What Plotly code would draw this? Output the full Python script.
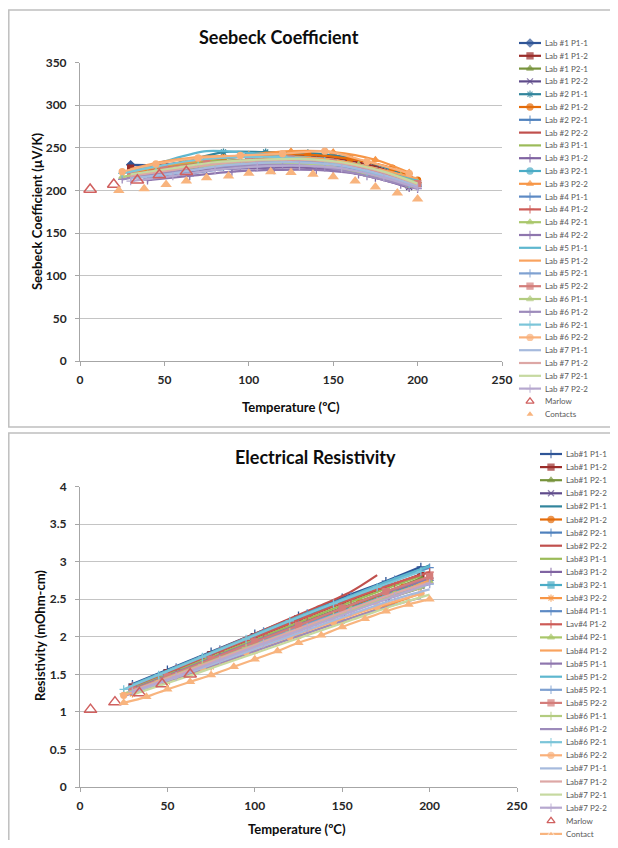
import plotly.graph_objects as go

# The page adds an 8px body margin, so the figure is 16px smaller than the window
PAGE_W, PAGE_H = 618, 848
FW, FH = PAGE_W - 16, PAGE_H - 16
FONT = "Lato"

def PX(x):
    return (x - 8) / FW

def PY(y):
    return 1 - (y - 8) / FH

# ---------------- legend names ----------------
names_top = ["Lab #1 P1-1", "Lab #1 P1-2", "Lab #1 P2-1", "Lab #1 P2-2",
             "Lab #2 P1-1", "Lab #2 P1-2", "Lab #2 P2-1", "Lab #2 P2-2",
             "Lab #3 P1-1", "Lab #3 P1-2", "Lab #3 P2-1", "Lab #3 P2-2",
             "Lab #4 P1-1", "Lab #4 P1-2", "Lab #4 P2-1", "Lab #4 P2-2",
             "Lab #5 P1-1", "Lab #5 P1-2", "Lab #5 P2-1", "Lab #5 P2-2",
             "Lab #6 P1-1", "Lab #6 P1-2", "Lab #6 P2-1", "Lab #6 P2-2",
             "Lab #7 P1-1", "Lab #7 P1-2", "Lab #7 P2-1", "Lab #7 P2-2"]
names_bot = ["Lab#1 P1-1", "Lab#1 P1-2", "Lab#1 P2-1", "Lab#1 P2-2",
             "Lab#2 P1-1", "Lab#2 P1-2", "Lab#2 P2-1", "Lab#2 P2-2",
             "Lab#3 P1-1", "Lab#3 P1-2", "Lab#3 P2-1", "Lab#3 P2-2",
             "Lab#4 P1-1", "Lav#4 P1-2", "Lab#4 P2-1", "Lab#4 P1-2",
             "Lab#5 P1-1", "Lab#5 P1-2", "Lab#5 P2-1", "Lab#5 P2-2",
             "Lab#6 P1-1", "Lab#6 P1-2", "Lab#6 P2-1", "Lab#6 P2-2",
             "Lab#7 P1-1", "Lab#7 P1-2", "Lab#7 P2-1", "Lab#7 P2-2"]

# ---------------- Seebeck data ----------------
seebeck_temps = [
    [30, 50, 75, 100, 125, 150, 175, 195],   # Lab 1
    [35, 60, 85, 110, 135, 160, 185, 200],   # Lab 2
    [30, 50, 75, 100, 125, 150, 175, 195],   # Lab 3
    [40, 65, 90, 115, 140, 165, 190, 200],   # Lab 4
    [30, 50, 75, 100, 125, 150, 175, 200],   # Lab 5
    [25, 45, 70, 95, 120, 145, 170, 195],    # Lab 6
    [30, 55, 80, 105, 130, 155, 180, 200],   # Lab 7
]
seebeck_lab1 = [[230, 230, 233, 236, 237, 234, 224, 210],
                [226, 230, 236, 240, 241, 238, 228, 213],
                [222, 227, 232, 235, 236, 233, 222, 206],
                [219, 222, 226, 229, 230, 227, 218, 204]]
seebeck_lab2 = [[224, 233, 245, 245, 244, 238, 224, 211],
                [222, 230, 238, 241, 242, 237, 226, 212],
                [217, 222, 228, 231, 232, 228, 216, 205],
                [220, 225, 230, 233, 234, 230, 218, 206]]
seebeck_lab3 = [[223, 229, 234, 236, 237, 233, 222, 208],
                [216, 220, 224, 226, 227, 224, 215, 203],
                [219, 224, 230, 234, 236, 233, 223, 209],
                [221, 229, 236, 242, 246, 245, 236, 221]]
seebeck_lab4 = [[214, 220, 226, 229, 229, 224, 211, 205],
                [218, 224, 230, 233, 233, 228, 215, 209],
                [220, 226, 232, 235, 235, 230, 217, 210],
                [212, 217, 222, 224, 224, 219, 207, 202]]
seebeck_lab5 = [[222, 234, 246, 244, 240, 236, 226, 212],
                [225, 234, 240, 240, 239, 236, 226, 214],
                [215, 222, 230, 234, 235, 232, 221, 207],
                [218, 226, 232, 236, 237, 233, 222, 208]]
seebeck_lab6 = [[216, 222, 228, 231, 232, 229, 219, 206],
                [213, 219, 225, 229, 230, 227, 217, 205],
                [220, 228, 236, 239, 239, 234, 222, 208],
                [222, 231, 238, 241, 243, 246, 234, 220]]
seebeck_lab7 = [[214, 220, 228, 232, 233, 229, 218, 205],
                [217, 224, 231, 235, 236, 232, 221, 207],
                [219, 226, 233, 236, 237, 233, 222, 208],
                [211, 217, 224, 228, 229, 226, 215, 203]]
seebeck_labs = [seebeck_lab1, seebeck_lab2, seebeck_lab3, seebeck_lab4,
                seebeck_lab5, seebeck_lab6, seebeck_lab7]

marlow_t = [6, 20, 34, 47, 63]
marlow_seebeck = [201, 207, 212, 218, 222]
contacts_t = [23, 38, 51, 63, 75, 88, 100, 113, 125, 138, 150, 163, 175, 188, 200]
contacts_seebeck = [200, 202, 207, 211, 215, 217, 220, 222, 221, 219, 216, 211, 204, 197, 190]

# ---------------- Resistivity data ----------------
rho_temps = [
    [30, 50, 75, 100, 125, 150, 175, 195],   # Lab 1
    [35, 60, 85, 110, 135, 160, 185, 200],   # Lab 2
    [30, 50, 75, 100, 125, 150, 175, 195],   # Lab 3
    [30, 55, 80, 105, 130, 155, 180, 200],   # Lab 4
    [30, 50, 75, 100, 125, 150, 175, 200],   # Lab 5
    [25, 45, 70, 95, 120, 145, 170, 195],    # Lab 6
    [30, 55, 80, 105, 130, 155, 180, 200],   # Lab 7
]
rho_temps_lab2_p22 = [35, 60, 85, 110, 135, 155, 170]
rho_lab1 = [[1.37, 1.56, 1.80, 2.04, 2.28, 2.52, 2.74, 2.93],
            [1.33, 1.52, 1.76, 1.99, 2.22, 2.45, 2.66, 2.83],
            [1.30, 1.48, 1.71, 1.94, 2.17, 2.39, 2.60, 2.78],
            [1.27, 1.45, 1.67, 1.89, 2.11, 2.32, 2.52, 2.68]]
rho_lab2 = [[1.38, 1.62, 1.86, 2.10, 2.34, 2.57, 2.80, 2.95],
            [1.33, 1.55, 1.78, 2.01, 2.23, 2.45, 2.66, 2.78],
            [1.31, 1.53, 1.76, 1.98, 2.20, 2.42, 2.63, 2.75],
            [1.40, 1.64, 1.89, 2.14, 2.39, 2.60, 2.82]]
rho_lab3 = [[1.32, 1.50, 1.73, 1.96, 2.19, 2.42, 2.64, 2.81],
            [1.27, 1.44, 1.66, 1.88, 2.09, 2.30, 2.50, 2.65],
            [1.29, 1.47, 1.69, 1.91, 2.13, 2.34, 2.55, 2.70],
            [1.24, 1.40, 1.60, 1.81, 2.01, 2.21, 2.41, 2.58]]
rho_lab4 = [[1.35, 1.59, 1.83, 2.07, 2.31, 2.54, 2.76, 2.92],
            [1.34, 1.57, 1.81, 2.04, 2.27, 2.50, 2.71, 2.86],
            [1.28, 1.49, 1.71, 1.93, 2.15, 2.37, 2.58, 2.74],
            [1.26, 1.46, 1.68, 1.90, 2.12, 2.34, 2.56, 2.76]]
rho_lab5 = [[1.30, 1.48, 1.71, 1.94, 2.16, 2.38, 2.59, 2.78],
            [1.36, 1.55, 1.79, 2.03, 2.27, 2.50, 2.73, 2.94],
            [1.28, 1.46, 1.68, 1.90, 2.12, 2.33, 2.53, 2.70],
            [1.29, 1.47, 1.70, 1.93, 2.15, 2.38, 2.60, 2.80]]
rho_lab6 = [[1.24, 1.41, 1.63, 1.85, 2.06, 2.27, 2.47, 2.65],
            [1.21, 1.37, 1.57, 1.77, 1.97, 2.17, 2.36, 2.52],
            [1.30, 1.49, 1.73, 1.97, 2.21, 2.44, 2.66, 2.87],
            [1.22, 1.38, 1.59, 1.80, 2.00, 2.20, 2.40, 2.57]]
rho_lab7 = [[1.26, 1.46, 1.67, 1.88, 2.09, 2.30, 2.50, 2.63],
            [1.28, 1.49, 1.71, 1.93, 2.15, 2.37, 2.58, 2.72],
            [1.23, 1.42, 1.62, 1.82, 2.02, 2.22, 2.42, 2.56],
            [1.27, 1.47, 1.69, 1.91, 2.12, 2.33, 2.54, 2.71]]
rho_labs = [rho_lab1, rho_lab2, rho_lab3, rho_lab4, rho_lab5, rho_lab6, rho_lab7]

marlow_rho = [1.03, 1.13, 1.25, 1.37, 1.50]
contact_t = [25, 38, 50, 63, 75, 88, 100, 113, 125, 138, 150, 163, 175, 188, 200]
contact_rho = [1.12, 1.20, 1.30, 1.40, 1.49, 1.60, 1.70, 1.81, 1.92, 2.02, 2.13, 2.24, 2.34, 2.43, 2.50]

# ---------------- styles ----------------
colors_top = ["#2F5597", "#9B2D2A", "#77933C", "#5F4B8B", "#31859C", "#E46C0A",
              "#4F81BD", "#C0504D", "#9BBB59", "#8064A2", "#4BACC6", "#F79646",
              "#5D8AC4", "#CD5B57", "#A9C76A", "#8E76AE", "#5EB7CF", "#F9A35F",
              "#7FA1D1", "#D47D7A", "#B3CC80", "#9D8BBB", "#7BC5D9", "#F9B07A",
              "#A6BADD", "#DDA7A5", "#C6D9A0", "#B6A8CF"]
colors_bot = colors_top[:15] + [colors_top[17], colors_top[15], colors_top[16]] + colors_top[18:]
sym_top = ["diamond", "square", "triangle-up", "x-thin-open", "asterisk-open", "circle",
           "cross-thin-open", "", "", "cross-thin-open", "circle", "triangle-up",
           "cross-thin-open", "cross-thin-open", "triangle-up", "cross-thin-open", "", "",
           "cross-thin-open", "square", "triangle-up", "cross-thin-open", "cross-thin-open", "circle",
           "", "", "", "cross-thin-open"]
sym_bot = ["cross-thin-open", "square", "triangle-up", "x-thin-open", "", "circle",
           "cross-thin-open", "", "", "cross-thin-open", "square", "asterisk-open",
           "cross-thin-open", "cross-thin-open", "triangle-up", "", "cross-thin-open", "",
           "cross-thin-open", "square", "cross-thin-open", "", "cross-thin-open", "circle",
           "", "", "", "cross-thin-open"]
MARLOW_C = "#D0605F"
CONTACT_C = "#F8B47E"

fig = go.Figure()

def add_series(x, y, color, sym, name, xa, ya):
    mode = "lines+markers" if sym else "lines"
    fig.add_trace(go.Scatter(
        x=x, y=y, mode=mode, name=name, xaxis=xa, yaxis=ya,
        line=dict(color=color, width=2.2, shape="spline", smoothing=0.8),
        marker=dict(symbol=sym if sym else "circle", size=6, color=color,
                    line=dict(color=color, width=1.3)),
        showlegend=False))

# top chart series
k = 0
for lab in range(7):
    for j in range(4):
        add_series(seebeck_temps[lab], seebeck_labs[lab][j], colors_top[k], sym_top[k],
                   names_top[k], "x", "y")
        k += 1
fig.add_trace(go.Scatter(x=marlow_t, y=marlow_seebeck, mode="markers", name="Marlow",
                         xaxis="x", yaxis="y", showlegend=False,
                         marker=dict(symbol="triangle-up-open", size=11, color=MARLOW_C,
                                     line=dict(color=MARLOW_C, width=1.5))))
fig.add_trace(go.Scatter(x=contacts_t, y=contacts_seebeck, mode="markers", name="Contacts",
                         xaxis="x", yaxis="y", showlegend=False,
                         marker=dict(symbol="triangle-up", size=10, color=CONTACT_C)))

# bottom chart series
k = 0
for lab in range(7):
    for j in range(4):
        t = rho_temps_lab2_p22 if (lab == 1 and j == 3) else rho_temps[lab]
        add_series(t, rho_labs[lab][j], colors_bot[k], sym_bot[k], names_bot[k], "x2", "y2")
        k += 1
fig.add_trace(go.Scatter(x=marlow_t, y=marlow_rho, mode="markers", name="Marlow",
                         xaxis="x2", yaxis="y2", showlegend=False,
                         marker=dict(symbol="triangle-up-open", size=11, color=MARLOW_C,
                                     line=dict(color=MARLOW_C, width=1.5))))
fig.add_trace(go.Scatter(x=contact_t, y=contact_rho, mode="lines+markers", name="Contact",
                         xaxis="x2", yaxis="y2", showlegend=False,
                         line=dict(color=CONTACT_C, width=2.2, shape="spline", smoothing=0.8),
                         marker=dict(symbol="triangle-up", size=9, color=CONTACT_C)))

# ---------------- custom legends (page-pixel overlay axes) ----------------
annotations = []

def legend_block(names, colors, syms, x0, y0, step, extra, xa, ya):
    rows = [(n, c, s, "line") for n, c, s in zip(names, colors, syms)] + extra
    for i, (nm, col, sy, kind) in enumerate(rows):
        yy = y0 + i * step
        if kind == "line":
            fig.add_trace(go.Scatter(
                x=[x0, x0 + 11, x0 + 22], y=[yy, yy, yy],
                mode="lines+markers" if sy else "lines",
                xaxis=xa, yaxis=ya, showlegend=False, hoverinfo="skip",
                line=dict(color=col, width=2.2),
                marker=dict(symbol=sy if sy else "circle", size=[0, 6, 0], color=col,
                            line=dict(color=col, width=1.3))))
        elif kind == "open":
            fig.add_trace(go.Scatter(
                x=[x0 + 11], y=[yy], mode="markers", xaxis=xa, yaxis=ya, showlegend=False,
                hoverinfo="skip",
                marker=dict(symbol="triangle-up-open", size=7, color=col,
                            line=dict(color=col, width=1.3))))
        elif kind == "filled":
            fig.add_trace(go.Scatter(
                x=[x0 + 11], y=[yy], mode="markers", xaxis=xa, yaxis=ya, showlegend=False,
                hoverinfo="skip",
                marker=dict(symbol="triangle-up", size=6, color=col)))
        elif kind == "linetri":
            fig.add_trace(go.Scatter(
                x=[x0, x0 + 11, x0 + 22], y=[yy, yy, yy], mode="lines+markers",
                xaxis=xa, yaxis=ya, showlegend=False, hoverinfo="skip",
                line=dict(color=col, width=2.2),
                marker=dict(symbol="triangle-up", size=[0, 6, 0], color=col)))
        annotations.append(dict(
            x=PX(x0 + 24), y=PY(yy), xref="paper", yref="paper", text=nm,
            showarrow=False, xanchor="left", yanchor="middle",
            font=dict(family=FONT, size=8, color="#595959")))

legend_block(names_top, colors_top, sym_top, 519, 43, 12.8,
             [("Marlow", MARLOW_C, "", "open"), ("Contacts", CONTACT_C, "", "filled")],
             "x3", "y3")
legend_block(names_bot, colors_bot, sym_bot, 540, 454, 13.1,
             [("Marlow", MARLOW_C, "", "open"), ("Contact", CONTACT_C, "", "linetri")],
             "x3", "y3")

# ---------------- titles ----------------
def txt(x, y, s, size, angle=0):
    annotations.append(dict(x=PX(x), y=PY(y), xref="paper", yref="paper", text=s,
                            showarrow=False, xanchor="center", yanchor="middle",
                            textangle=angle,
                            font=dict(family=FONT, size=size, color="#0D0D0D",
                                      weight="bold")))

txt(279, 37, "Seebeck Coefficient", 18)
txt(315, 457, "Electrical Resistivity", 18)
txt(291, 407, "Temperature (ºC)", 13)
txt(297, 829, "Temperature (ºC)", 13)
txt(37, 212, "Seebeck Coefficient (µV/K)", 13, angle=-90)
txt(40, 636, "Resistivity (mOhm-cm)", 13, angle=-90)

# ---------------- axes ----------------
AX = "#A6A6A6"
GRID = "#C4C4C4"
tickfont = dict(family=FONT, size=12, color="#262626", weight="bold")

def xax(domain, anchor):
    return dict(domain=domain, anchor=anchor, range=[0, 250], dtick=50, tick0=0,
                showgrid=False, zeroline=False, showline=True, linecolor=AX, linewidth=1,
                ticks="outside", ticklen=4, tickcolor=AX, tickfont=tickfont,
                ticklabelstandoff=4, fixedrange=True, automargin=False)

def yax(domain, anchor, rng, dt):
    return dict(domain=domain, anchor=anchor, range=rng, dtick=dt, tick0=0,
                showgrid=True, gridcolor=GRID, gridwidth=1, zeroline=False,
                showline=True, linecolor=AX, linewidth=1, ticks="outside", ticklen=4,
                tickcolor=AX, tickfont=tickfont, ticklabelstandoff=6, fixedrange=True,
                automargin=False)

shapes = [
    dict(type="rect", xref="paper", yref="paper", x0=0.8 / FW, x1=1.05, y0=PY(427),
         y1=PY(10), line=dict(color="#BFBFBF", width=1.5), fillcolor="rgba(0,0,0,0)",
         layer="below"),
    dict(type="rect", xref="paper", yref="paper", x0=0.8 / FW, x1=1.05, y0=-0.05,
         y1=PY(433), line=dict(color="#BFBFBF", width=1.5), fillcolor="rgba(0,0,0,0)",
         layer="below"),
]

fig.update_layout(
    template="none",
    width=FW, height=FH, autosize=False, margin=dict(l=0, r=0, t=0, b=0, pad=0),
    paper_bgcolor="white", plot_bgcolor="rgba(0,0,0,0)", showlegend=False,
    xaxis=xax([PX(80), PX(502)], "y"),
    yaxis=yax([PY(361), PY(62.5)], "x", [0, 350], 50),
    xaxis2=xax([PX(80), PX(517)], "y2"),
    yaxis2=yax([PY(787), PY(486.5)], "x2", [0, 4], 0.5),
    xaxis3=dict(domain=[PX(518), 1], anchor="y3", range=[518, 8 + FW], visible=False,
                fixedrange=True, automargin=False),
    yaxis3=dict(domain=[0, 1], anchor="x3", range=[8 + FH, 8], visible=False,
                fixedrange=True, automargin=False),
    annotations=annotations, shapes=shapes,
    font=dict(family=FONT),
)

fig.write_html("out.html")
